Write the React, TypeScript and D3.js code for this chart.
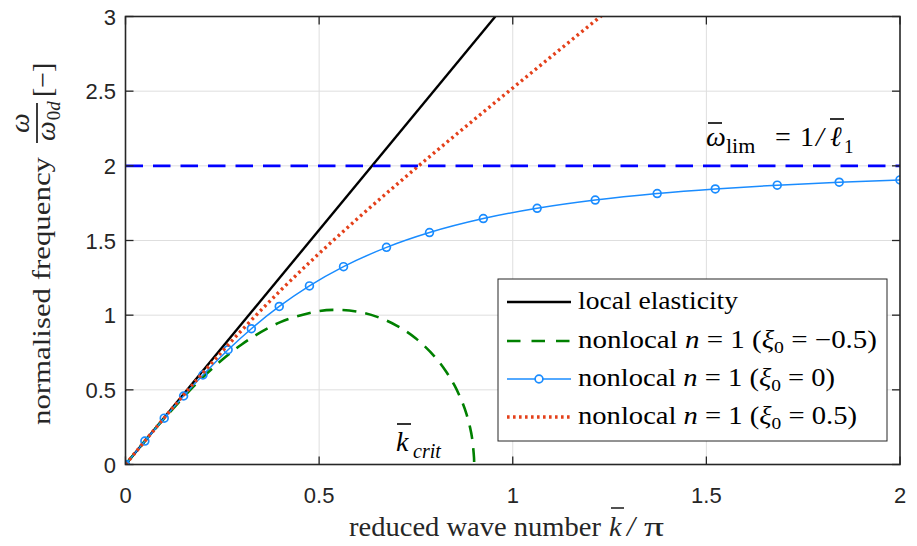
import React from "react";
import * as d3 from "d3";

// ---- data ----
const kLocal = [0, 0.955];
const omegaLocal = [0, 3.0];

const kXiNeg = [0, 0.05, 0.1, 0.2, 0.3, 0.4, 0.5, 0.55, 0.6, 0.65, 0.7, 0.75, 0.8, 0.83, 0.85, 0.87, 0.88, 0.89, 0.895, 0.9, 0.9003];
const omegaXiNeg = [0, 0.1564, 0.3085, 0.5844, 0.8038, 0.9532, 1.0273, 1.0352, 1.0227, 0.9886, 0.9305, 0.8435, 0.7179, 0.6149, 0.5276, 0.4153, 0.3423, 0.2455, 0.1769, 0.0438, 0];

const kXi0 = [0, 0.05, 0.1, 0.15, 0.2, 0.265, 0.325, 0.397, 0.475, 0.563, 0.674, 0.785, 0.924, 1.063, 1.213, 1.373, 1.523, 1.683, 1.843, 2.0];
const omegaXi0 = [0, 0.1566, 0.3104, 0.4587, 0.5994, 0.7686, 0.9094, 1.0583, 1.196, 1.3249, 1.454, 1.5534, 1.6469, 1.7158, 1.7709, 1.8145, 1.8453, 1.8706, 1.8904, 1.9058];

const kXiPos = [0, 0.1, 0.2, 0.3, 0.4, 0.5, 0.6, 0.7, 0.8, 0.9, 1.0, 1.1, 1.2, 1.23];
const omegaXiPos = [0, 0.3123, 0.614, 0.8986, 1.1643, 1.4131, 1.6485, 1.8742, 2.0935, 2.3087, 2.5215, 2.733, 2.944, 3.007];

const kLim = [0, 2];
const omegaLim = [2, 2];

const xTicks = [0, 0.5, 1, 1.5, 2];
const yTicks = [0, 0.5, 1, 1.5, 2, 2.5, 3];
const xTickLabels = ["0", "0.5", "1", "1.5", "2"];
const yTickLabels = ["0", "0.5", "1", "1.5", "2", "2.5", "3"];

const L = 125.5, R = 900, T = 16.5, B = 464.5;
const serif = "'Liberation Serif', 'DejaVu Serif', serif";
const sans = "'Liberation Sans', Arial, sans-serif";
const frameCol = "#262626";

export default function App() {
  const x = d3.scaleLinear().domain([0, 2]).range([L, R]);
  const y = d3.scaleLinear().domain([0, 3]).range([B, T]);
  const mk = (ks: number[], ws: number[], curve: any) =>
    d3.line<number>().x((_, i) => x(ks[i])).y((_, i) => y(ws[i])).curve(curve)(ks) || "";

  const pLocal = mk(kLocal, omegaLocal, d3.curveLinear);
  const pNeg = mk(kXiNeg, omegaXiNeg, d3.curveCatmullRom);
  const p0 = mk(kXi0, omegaXi0, d3.curveMonotoneX);
  const pPos = mk(kXiPos, omegaXiPos, d3.curveMonotoneX);
  const pLim = mk(kLim, omegaLim, d3.curveLinear);

  const blue = "#1a8cff";
  const red = "#e4401a";
  const green = "#008000";
  const tick = 8;

  const legendRows = [302, 341, 379, 417];
  const sub = { fontSize: 17 };

  return (
    <svg width={917} height={546} style={{ display: "block", position: "absolute", left: 0, top: 0 }}>
      <rect x={0} y={0} width={917} height={546} fill="#fff" />
      <defs>
        <clipPath id="plotClip">
          <rect x={L} y={T} width={R - L} height={B - T} />
        </clipPath>
      </defs>
      {/* grid */}
      {xTicks.slice(1, -1).map((t) => (
        <line key={"gx" + t} x1={x(t)} x2={x(t)} y1={T} y2={B} stroke="#dedede" strokeWidth={1} />
      ))}
      {yTicks.slice(1, -1).map((t) => (
        <line key={"gy" + t} x1={L} x2={R} y1={y(t)} y2={y(t)} stroke="#dedede" strokeWidth={1} />
      ))}
      <g clipPath="url(#plotClip)" fill="none">
        <path d={pLocal} stroke="#000" strokeWidth={2.4} />
        <path d={pNeg} stroke={green} strokeWidth={2.6} strokeDasharray="14 9" />
        <path d={p0} stroke={blue} strokeWidth={1.5} />
        {kXi0.map((k, i) => (
          <circle key={"m" + i} cx={x(k)} cy={y(omegaXi0[i])} r={3.9} stroke={blue} strokeWidth={1.7} fill="none" />
        ))}
        <path d={pPos} stroke={red} strokeWidth={3.4} strokeDasharray="2.6 3.4" />
        <path d={pLim} stroke="#0000ff" strokeWidth={2.6} strokeDasharray="17.5 10" />
      </g>
      {/* frame and ticks */}
      <rect x={L} y={T} width={R - L} height={B - T} fill="none" stroke={frameCol} strokeWidth={1.6} />
      {xTicks.map((t) => (
        <g key={"tx" + t}>
          <line x1={x(t)} x2={x(t)} y1={B} y2={B - tick} stroke={frameCol} strokeWidth={1.3} />
          <line x1={x(t)} x2={x(t)} y1={T} y2={T + tick} stroke={frameCol} strokeWidth={1.3} />
        </g>
      ))}
      {yTicks.map((t) => (
        <g key={"ty" + t}>
          <line x1={L} x2={L + tick} y1={y(t)} y2={y(t)} stroke={frameCol} strokeWidth={1.3} />
          <line x1={R} x2={R - tick} y1={y(t)} y2={y(t)} stroke={frameCol} strokeWidth={1.3} />
        </g>
      ))}
      {xTicks.map((t, i) => (
        <text key={"lx" + t} x={x(t)} y={503} textAnchor="middle" fontFamily={sans} fontSize={22} fill={frameCol}>
          {xTickLabels[i]}
        </text>
      ))}
      {yTicks.map((t, i) => (
        <text key={"ly" + t} x={116} y={y(t) + 8} textAnchor="end" fontFamily={sans} fontSize={22} fill={frameCol}>
          {yTickLabels[i]}
        </text>
      ))}

      {/* x label */}
      <text x={349} y={536} fontFamily={serif} fontSize={27} fill="#262626" textLength={252} lengthAdjust="spacingAndGlyphs">
        reduced wave number
      </text>
      <text x={609} y={536} fontFamily={serif} fontSize={28} fontStyle="italic" fill="#262626">k</text>
      <line x1={611} x2={624} y1={508} y2={508} stroke="#262626" strokeWidth={1.6} />
      <text x={627} y={536} fontFamily={serif} fontSize={29} fontStyle="italic" fill="#262626">/</text>
      <text x={644} y={536} fontFamily={serif} fontSize={28} fill="#262626" textLength={20} lengthAdjust="spacingAndGlyphs">π</text>

      {/* y label */}
      <g transform="translate(50,425) rotate(-90)" fontFamily={serif} fill="#262626">
        <text x={0} y={0} fontSize={26} textLength={268} lengthAdjust="spacingAndGlyphs">normalised frequency</text>
        <text x={302} y={-21} fontSize={28} fontStyle="italic" textAnchor="middle">ω</text>
        <line x1={282} x2={322} y1={-13} y2={-13} stroke="#262626" strokeWidth={1.8} />
        <text x={284} y={5} fontSize={28} fontStyle="italic">ω<tspan fontSize={19} dy={5} dx={1} fontStyle="normal">0</tspan><tspan fontSize={19}>d</tspan></text>
        <text x={328} y={2} fontSize={28}>[−]</text>
      </g>

      {/* annotations */}
      <g fontFamily={serif} fill="#000">
        <text x={706} y={146} fontSize={28} fontStyle="italic">ω</text>
        <line x1={708} x2={722} y1={123} y2={123} stroke="#000" strokeWidth={1.6} />
        <text x={726} y={153} fontSize={22}>lim</text>
        <text x={775} y={146} fontSize={28}>=</text>
        <text x={800} y={146} fontSize={28}>1</text>
        <text x={816} y={146} fontSize={28} fontStyle="italic">/</text>
        <text x={830} y={146} fontSize={28} fontStyle="italic">ℓ</text>
        <line x1={830} x2={844} y1={119} y2={119} stroke="#000" strokeWidth={1.6} />
        <text x={844} y={153} fontSize={19}>1</text>

        <text x={396} y={451} fontSize={28} fontStyle="italic">k</text>
        <line x1={397} x2={411} y1={424} y2={424} stroke="#000" strokeWidth={1.6} />
        <text x={413} y={458} fontSize={20} fontStyle="italic">crit</text>
      </g>

      {/* legend */}
      <rect x={498} y={279} width={389} height={162} fill="#fff" stroke={frameCol} strokeWidth={1} />
      <line x1={507} x2={571} y1={legendRows[0]} y2={legendRows[0]} stroke="#000" strokeWidth={2.4} />
      <line x1={507} x2={571} y1={legendRows[1]} y2={legendRows[1]} stroke={green} strokeWidth={2.6} strokeDasharray="13.5 11" />
      <line x1={507} x2={571} y1={legendRows[2]} y2={legendRows[2]} stroke={blue} strokeWidth={1.5} />
      <circle cx={539} cy={legendRows[2]} r={3.9} stroke={blue} strokeWidth={1.7} fill="#fff" />
      <line x1={507} x2={571} y1={legendRows[3]} y2={legendRows[3]} stroke={red} strokeWidth={3.4} strokeDasharray="2.6 3.4" />
      <g fontFamily={serif} fontSize={25} fill="#000">
        <text x={578} y={legendRows[0] + 7} textLength={160} lengthAdjust="spacingAndGlyphs">local elasticity</text>
        <text x={578} y={legendRows[1] + 7} textLength={299} lengthAdjust="spacingAndGlyphs">
          nonlocal <tspan fontStyle="italic">n</tspan> = 1 (<tspan fontStyle="italic">ξ</tspan>
          <tspan style={sub} dy={5}>0</tspan><tspan dy={-5}> = −0.5)</tspan>
        </text>
        <text x={578} y={legendRows[2] + 7} textLength={257} lengthAdjust="spacingAndGlyphs">
          nonlocal <tspan fontStyle="italic">n</tspan> = 1 (<tspan fontStyle="italic">ξ</tspan>
          <tspan style={sub} dy={5}>0</tspan><tspan dy={-5}> = 0)</tspan>
        </text>
        <text x={578} y={legendRows[3] + 7} textLength={279} lengthAdjust="spacingAndGlyphs">
          nonlocal <tspan fontStyle="italic">n</tspan> = 1 (<tspan fontStyle="italic">ξ</tspan>
          <tspan style={sub} dy={5}>0</tspan><tspan dy={-5}> = 0.5)</tspan>
        </text>
      </g>
    </svg>
  );
}
